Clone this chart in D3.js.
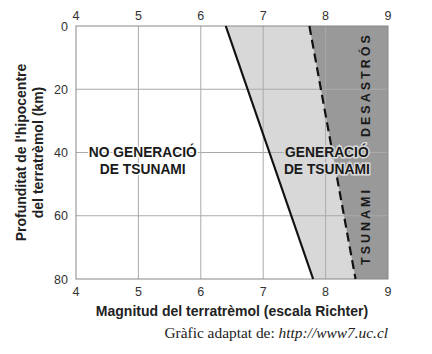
<!DOCTYPE html>
<html>
<head>
<meta charset="utf-8">
<script src="https://cdn.jsdelivr.net/npm/d3@7"></script>
<style>
  body { margin: 0; background: #fff; }
  text { font-family: "Liberation Sans", Arial, sans-serif; }
  .tick-label { font-size: 12.5px; fill: #333; }
  .axisLabel { font-size: 14px; font-weight: bold; fill: #222; }
  .zone { font-size: 13.8px; font-weight: bold; fill: #1a1a1a; }
</style>
</head>
<body>
<div id="chart"></div>
<script>
// data
const magnitudeTicks = [4, 5, 6, 7, 8, 9];
const depthTicks = [0, 20, 40, 60, 80];
const solidLine = [[6.4, 0], [7.8, 80]];     // limit of tsunami generation
const dashedLine = [[7.74, 0], [8.48, 80]];  // limit of disastrous tsunami

const width = 432, height = 354;
const margin = {top: 26, left: 76, right: 44, bottom: 75};

const svg = d3.select("#chart")
    .append("svg")
    .attr("width", width)
    .attr("height", height);

const xScale = d3.scaleLinear()
    .domain([4, 9])
    .range([margin.left, width - margin.right]);

const yScale = d3.scaleLinear()
    .domain([0, 80])
    .range([margin.top, height - margin.bottom]);

/* SHADED ZONES */
const area = d3.line().x(d => xScale(d[0])).y(d => yScale(d[1]));

// light gray: between solid line and right edge
svg.append("path")
    .attr("d", area([solidLine[0], [9, 0], [9, 80], solidLine[1]]) + "Z")
    .attr("fill", "#d8d8d8");

// dark gray: right of dashed line
svg.append("path")
    .attr("d", area([dashedLine[0], [9, 0], [9, 80], dashedLine[1]]) + "Z")
    .attr("fill", "#999999");

/* GRID */
svg.append("g")
    .selectAll("line")
    .data(magnitudeTicks.slice(1, -1))
    .enter()
    .append("line")
    .attr("x1", d => xScale(d)).attr("x2", d => xScale(d))
    .attr("y1", yScale(0)).attr("y2", yScale(80))
    .attr("stroke", "#aaa").attr("stroke-width", 1);

svg.append("g")
    .selectAll("line")
    .data(depthTicks.slice(1, -1))
    .enter()
    .append("line")
    .attr("x1", xScale(4)).attr("x2", xScale(9))
    .attr("y1", d => yScale(d)).attr("y2", d => yScale(d))
    .attr("stroke", "#aaa").attr("stroke-width", 1);

/* FRAME */
svg.append("rect")
    .attr("x", xScale(4)).attr("y", yScale(0))
    .attr("width", xScale(9) - xScale(4))
    .attr("height", yScale(80) - yScale(0))
    .attr("fill", "none")
    .attr("stroke", "#888");

/* LINES */
svg.append("path")
    .attr("d", area(solidLine))
    .attr("stroke", "#111").attr("stroke-width", 2.2).attr("fill", "none");

svg.append("path")
    .attr("d", area(dashedLine))
    .attr("stroke", "#111").attr("stroke-width", 2.2).attr("fill", "none")
    .attr("stroke-dasharray", "9,5");

/* TICK LABELS */
svg.append("g").selectAll("text")
    .data(magnitudeTicks).enter().append("text")
    .attr("class", "tick-label")
    .attr("x", d => xScale(d)).attr("y", yScale(0) - 6)
    .attr("text-anchor", "middle")
    .text(d => d);

svg.append("g").selectAll("text")
    .data(magnitudeTicks).enter().append("text")
    .attr("class", "tick-label")
    .attr("x", d => xScale(d)).attr("y", yScale(80) + 17)
    .attr("text-anchor", "middle")
    .text(d => d);

svg.append("g").selectAll("text")
    .data(depthTicks).enter().append("text")
    .attr("class", "tick-label")
    .attr("x", xScale(4) - 8).attr("y", d => yScale(d) + 4.5)
    .attr("text-anchor", "end")
    .text(d => d);

/* ZONE LABELS */
function zoneLabel(lines, x, y, halo) {
    const t = svg.append("text")
        .attr("class", "zone")
        .attr("text-anchor", "middle")
        .attr("stroke", halo).attr("stroke-width", 3)
        .attr("paint-order", "stroke");
    lines.forEach((s, i) => {
        t.append("tspan").attr("x", x).attr("y", y + i * 17).text(s);
    });
}
zoneLabel(["NO GENERACIÓ", "DE TSUNAMI"], xScale(5.07), yScale(41.3), "#fff");
zoneLabel(["GENERACIÓ", "DE TSUNAMI"], xScale(8.02), yScale(41.3), "#d8d8d8");

// vertical label in the dark zone
[["TSUNAMI", 265], ["DESASTRÓS", 137]].forEach(([s, yStart]) => {
    svg.append("text")
        .attr("class", "zone")
        .attr("transform", `translate(${xScale(8.75) - 2},${yStart}) rotate(-90)`)
        .style("font-size", "12.5px")
        .style("letter-spacing", "3px")
        .text(s);
});

/* AXIS TITLES */
svg.append("text")
    .attr("class", "axisLabel")
    .attr("x", (xScale(4) + xScale(9)) / 2)
    .attr("y", height - margin.bottom + 37)
    .attr("text-anchor", "middle")
    .text("Magnitud del terratrèmol (escala Richter)");

const yTitle = svg.append("text")
    .attr("class", "axisLabel")
    .attr("transform", `translate(26,${(yScale(0) + yScale(80)) / 2}) rotate(-90)`)
    .attr("text-anchor", "middle");
yTitle.append("tspan").attr("x", 0).attr("y", 0).text("Profunditat de l'hipocentre");
yTitle.append("tspan").attr("x", 0).attr("y", 17).text("del terratrèmol (km)");

/* SOURCE */
const src = svg.append("text")
    .attr("x", xScale(9))
    .attr("y", height - 16)
    .attr("text-anchor", "end")
    .style("font-family", "'Liberation Serif', 'DejaVu Serif', serif")
    .style("font-size", "15.4px")
    .attr("fill", "#222");
src.append("tspan").text("Gràfic adaptat de: ");
src.append("tspan").style("font-style", "italic").text("http://www7.uc.cl");
</script>
</body>
</html>
